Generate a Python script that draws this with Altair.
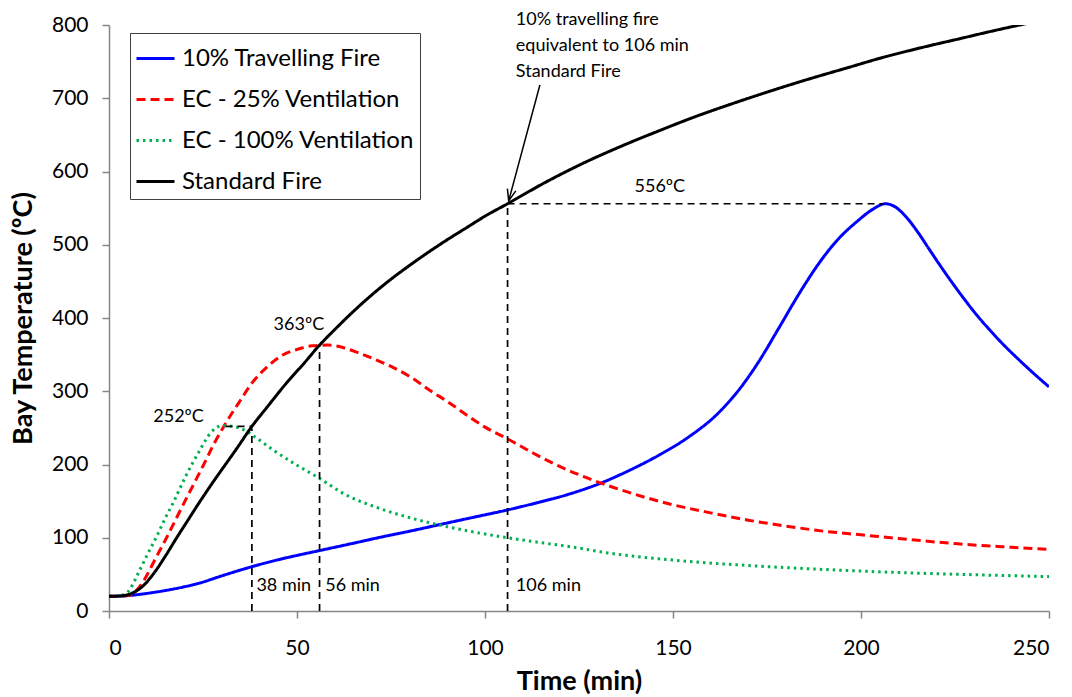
import altair as alt
import pandas as pd

FONT = "Lato"

series_names = ["10% Travelling Fire", "EC - 25% Ventilation", "EC - 100% Ventilation", "Standard Fire"]
series_colors = ["#0000FF", "#FF0000", "#00B050", "#000000"]
series_dashes = [[1, 0], [9, 5], [2.5, 4], [1, 0]]
series_widths = [3, 3, 2.5, 3]

travel_t = [0, 5, 10, 15, 20, 24, 30, 38, 45, 51, 56, 65, 72, 80, 88, 97, 106, 114, 122, 130, 138,
            146, 154, 162, 168, 173, 178, 184, 189, 194, 199, 203, 206.5, 209, 212, 215, 218,
            221, 224, 227, 230, 234, 238, 242, 246, 250]
travel_T = [20, 21, 24, 28, 33, 38, 48, 60.5, 70, 77, 82.5, 92.5, 100.5, 109, 118, 128, 138, 148, 159, 173, 191,
            212, 237, 270, 305, 342, 385, 437, 476, 508, 532, 548, 556, 552, 538, 518, 495,
            472, 450, 429, 409, 385, 363, 343, 324, 306]

ec25_t = [0, 5, 8, 10, 12, 15, 20, 25, 28, 31, 35, 38, 42, 46, 50, 54, 58, 62, 66, 70, 75, 80, 86,
          90, 95, 100, 106, 113, 120, 127, 134, 142, 150, 160, 170, 180, 190, 200, 210, 225, 240, 250]
ec25_T = [20, 21, 32, 48, 68, 97, 148, 198, 229, 256, 288, 311, 333, 349, 357, 362, 363, 360, 353,
          345, 334, 320, 299, 286, 268, 251, 235, 215, 197, 182, 169, 156, 145, 134, 124, 116, 109,
          104, 99, 92, 87, 84]

ec100_t = [0, 3, 5, 8, 10, 12.6, 15, 17, 20.5, 24, 27, 30, 33, 36, 39, 43.6, 50, 56, 62.5, 72, 81,
           90, 99, 106, 114, 123, 133, 150, 172, 191, 210, 230, 250]
ec100_T = [20, 21, 26, 54, 75, 101, 127, 147, 185, 218, 243, 253, 252, 247, 237, 220, 199, 181,
           160, 140, 126, 115, 106, 100, 94, 87.5, 79, 69.5, 61.5, 56.5, 52.5, 49.5, 47]

std_t = [0, 3, 6, 9, 12, 15, 18, 21, 24, 27, 30, 34, 38, 42, 47, 52, 56, 60, 65, 70, 75, 80, 85,
         90, 95, 100, 106, 116, 126, 136, 146, 156, 166, 176, 186, 196, 206, 216, 226, 236, 246, 250]
std_T = [20, 20.5, 24, 34, 52, 75, 100, 124, 148, 171, 193, 222, 252, 278, 310, 339, 363, 384, 409,
         432, 453, 472, 490, 507, 523, 539, 556, 585, 611, 634, 655, 675, 693, 710, 726, 741, 756,
         769, 781, 793, 804, 808]

x_ticks = [0, 50, 100, 150, 200, 250]
y_ticks = [0, 100, 200, 300, 400, 500, 600, 700, 800]

# dashed guide lines: (t1, t2, T1, T2)
guide_t1 = [38, 31, 56, 106, 106]
guide_t2 = [38, 38, 56, 106, 206]
guide_T1 = [0, 252, 0, 0, 556]
guide_T2 = [249, 252, 363, 556, 556]

# centred value labels
peak_text = ["556ºC", "363ºC", "252ºC"]
peak_t = [146.5, 50.5, 18.5]
peak_T = [579, 390, 265]

# left-aligned notes
note_text = ["38 min", "56 min", "106 min",
             "10% travelling fire", "equivalent to 106 min", "Standard Fire"]
note_t = [39.2, 57.5, 108.2, 108.2, 108.2, 108.2]
note_T = [34, 34, 34, 807, 772, 736]

arrow_t = [114.6, 106.3]
arrow_T = [718, 560]

rows = []
for name, ts, Ts in [(series_names[0], travel_t, travel_T),
                     (series_names[1], ec25_t, ec25_T),
                     (series_names[2], ec100_t, ec100_T),
                     (series_names[3], std_t, std_T)]:
    for i, (t, T) in enumerate(zip(ts, Ts)):
        rows.append({"series": name, "t": t, "T": T, "order": i})
curves = pd.DataFrame(rows)

guides = pd.DataFrame({"t1": guide_t1, "t2": guide_t2, "T1": guide_T1, "T2": guide_T2})
peaks = pd.DataFrame({"text": peak_text, "t": peak_t, "T": peak_T})
notes = pd.DataFrame({"text": note_text, "t": note_t, "T": note_T})
arrow = pd.DataFrame({"t1": [arrow_t[0]], "t2": [arrow_t[1]], "T1": [arrow_T[0]], "T2": [arrow_T[1]]})
arrowhead = pd.DataFrame({"t": [arrow_t[1]], "T": [arrow_T[1]]})

xscale = alt.Scale(domain=[0, 250], nice=False)
yscale = alt.Scale(domain=[0, 800], nice=False)

xaxis = alt.Axis(values=x_ticks, title="Time (min)", grid=False)
yaxis = alt.Axis(values=y_ticks, title="Bay Temperature (ºC)", grid=False)

lines = alt.Chart(curves).mark_line(clip=True, interpolate="monotone").encode(
    x=alt.X("t:Q", scale=xscale, axis=xaxis),
    y=alt.Y("T:Q", scale=yscale, axis=yaxis),
    color=alt.Color("series:N", scale=alt.Scale(domain=series_names, range=series_colors),
                    sort=series_names, legend=alt.Legend(title=None)),
    strokeDash=alt.StrokeDash("series:N", scale=alt.Scale(domain=series_names, range=series_dashes),
                              sort=series_names, legend=alt.Legend(title=None)),
    strokeWidth=alt.StrokeWidth("series:N", scale=alt.Scale(domain=series_names, range=series_widths),
                                legend=None),
    order="order:Q",
)

guide_layer = alt.Chart(guides).mark_rule(color="#000000", strokeDash=[7, 5], strokeWidth=1.7).encode(
    x=alt.X("t1:Q", scale=xscale), x2="t2:Q",
    y=alt.Y("T1:Q", scale=yscale), y2="T2:Q",
)

peak_layer = alt.Chart(peaks).mark_text(font=FONT, fontSize=18, color="#000000", baseline="middle",
                                        align="center").encode(
    x=alt.X("t:Q", scale=xscale), y=alt.Y("T:Q", scale=yscale), text="text:N",
)

note_layer = alt.Chart(notes).mark_text(font=FONT, fontSize=18, color="#000000", baseline="middle",
                                        align="left").encode(
    x=alt.X("t:Q", scale=xscale), y=alt.Y("T:Q", scale=yscale), text="text:N",
)

arrow_layer = alt.Chart(arrow).mark_rule(color="#000000", strokeWidth=1.5).encode(
    x=alt.X("t1:Q", scale=xscale), x2="t2:Q",
    y=alt.Y("T1:Q", scale=yscale), y2="T2:Q",
)

head_layer = alt.Chart(arrowhead).mark_point(
    shape="M-0.55,-1.45L0,0L0.55,-1.45", filled=False, stroke="#000000", strokeWidth=1.5,
    size=250, angle=14.7, opacity=1,
).encode(x=alt.X("t:Q", scale=xscale), y=alt.Y("T:Q", scale=yscale))

chart = alt.layer(lines, guide_layer, arrow_layer, head_layer, peak_layer, note_layer).properties(
    width=940, height=586,
    autosize=alt.AutoSizeParams(type="none"),
    padding={"left": 109, "top": 25, "right": 23, "bottom": 86},
    background="#FFFFFF",
).configure_view(stroke=None).configure_axis(
    domainColor="#868686", tickColor="#868686", tickSize=7, domainWidth=1.5, tickWidth=1.5,
    labelFont=FONT, labelFontSize=21, labelColor="#000000",
    titleFont=FONT, titleFontSize=27, titleFontWeight="bold", titleColor="#000000",
).configure_axisX(labelPadding=19, titlePadding=10).configure_axisY(labelPadding=14, titlePadding=14).configure_legend(
    orient="none", legendX=21, legendY=8, strokeColor="#404040", fillColor="#FFFFFF",
    padding=5, symbolType="stroke", symbolSize=1444, symbolStrokeWidth=3,
    labelFont=FONT, labelFontSize=24, labelColor="#000000", labelOffset=6, rowPadding=8,
    labelLimit=400,
)

chart.save("out.html", embed_options={"renderer": "svg", "actions": False})
